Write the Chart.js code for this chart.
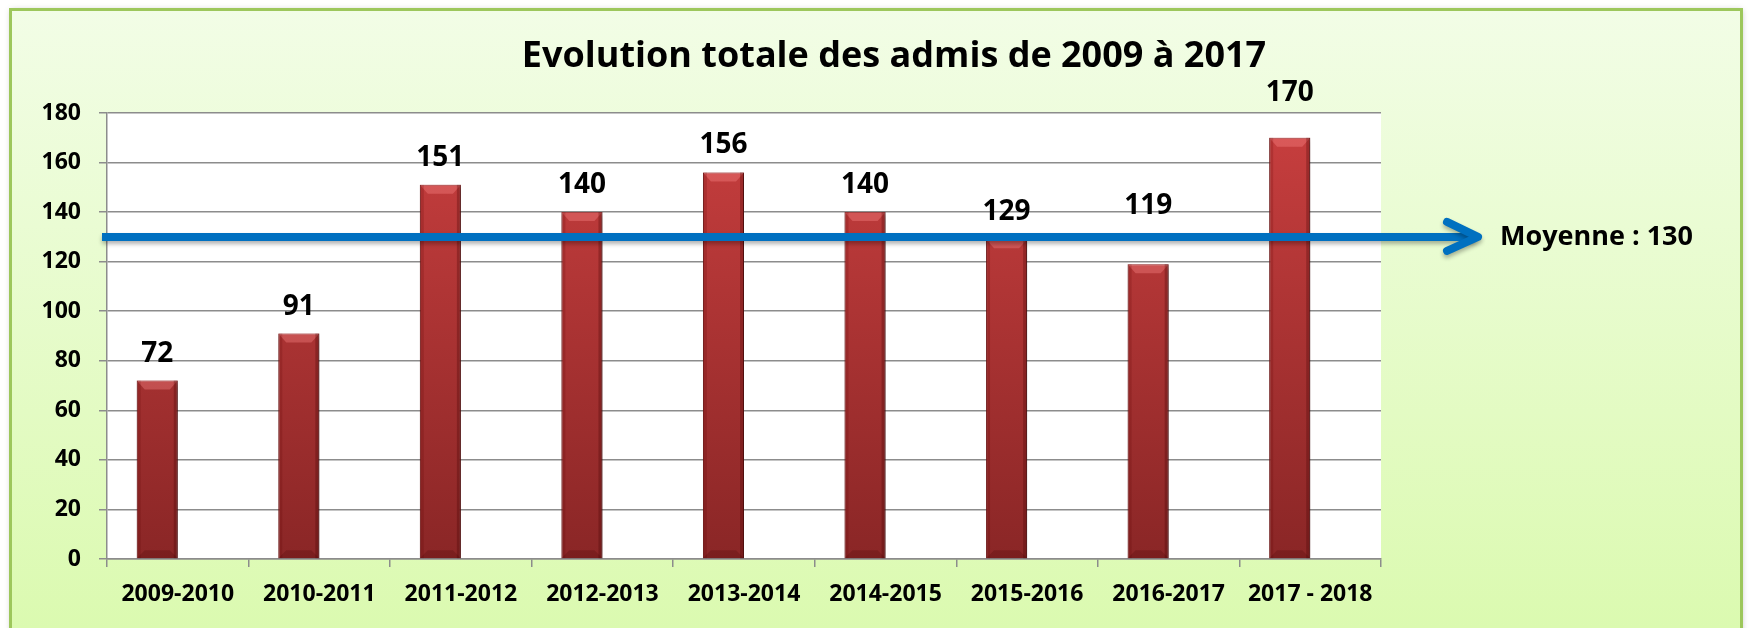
<!DOCTYPE html>
<html>
<head>
<meta charset="utf-8">
<script src="https://cdn.jsdelivr.net/npm/chart.js@4.4.0/dist/chart.umd.min.js"></script>
<style>
  html, body { margin: 0; padding: 0; background: #fff; }
  #cadre { width: 1749px; height: 628px; }
</style>
</head>
<body>
<div id="cadre"><canvas id="graphique"></canvas></div>
<script>
const annees = ['2009-2010', '2010-2011', '2011-2012', '2012-2013', '2013-2014', '2014-2015', '2015-2016', '2016-2017', '2017 - 2018'];
const admis = [72, 91, 151, 140, 156, 140, 129, 119, 170];
// deuxieme serie vide : elle decale les barres a gauche comme dans l'original
const vide = annees.map(() => null);
const ticksY = [0, 20, 40, 60, 80, 100, 120, 140, 160, 180];
const moyenne = 130;
const titre = 'Evolution totale des admis de 2009 à 2017';

const police = "'Open Sans', sans-serif";

const fond = {
    id: 'fond',
    beforeDraw(chart) {
        const ctx = chart.ctx;
        const a = chart.chartArea;
        ctx.save();
        ctx.fillStyle = '#fff';
        ctx.fillRect(0, 0, chart.width, chart.height);
        const g = ctx.createLinearGradient(0, 10, 0, chart.height);
        g.addColorStop(0, '#f2fde6');
        g.addColorStop(1, '#dbfab0');
        ctx.shadowColor = 'rgba(0,0,0,0.25)';
        ctx.shadowBlur = 6;
        ctx.fillStyle = g;
        ctx.fillRect(10.5, 9.5, 1731, 640);
        ctx.shadowColor = 'transparent';
        ctx.strokeStyle = '#9dc75c';
        ctx.lineWidth = 3;
        ctx.strokeRect(10.5, 9.5, 1731, 640);
        ctx.fillStyle = '#fff';
        ctx.fillRect(a.left, a.top, a.right - a.left, a.bottom - a.top);
        ctx.restore();
    }
};

const relief = {
    id: 'relief',
    beforeDatasetsDraw(chart) {
        const ctx = chart.ctx;
        ctx.save();
        ctx.shadowColor = 'rgba(0,0,0,0.35)';
        ctx.shadowBlur = 6;
        ctx.shadowOffsetX = 3;
        ctx.shadowOffsetY = 2;
    },
    afterDatasetsDraw(chart) {
        const ctx = chart.ctx;
        ctx.restore();
        const a = chart.chartArea;
        const yMoy = chart.scales.y.getPixelForValue(moyenne);

        ctx.save();
        chart.getDatasetMeta(0).data.forEach((barre, i) => {
            const p = barre.getProps(['x', 'y', 'base', 'width'], true);
            const g = p.x - p.width / 2, d = p.x + p.width / 2;
            // biseau du haut
            ctx.fillStyle = 'rgba(255,140,140,0.35)';
            ctx.beginPath();
            ctx.moveTo(g, p.y);
            ctx.lineTo(d, p.y);
            ctx.lineTo(d - 8, p.y + 9);
            ctx.lineTo(g + 8, p.y + 9);
            ctx.closePath();
            ctx.fill();
            // bords
            ctx.fillStyle = 'rgba(90,0,0,0.18)';
            ctx.fillRect(g, p.y, 4, p.base - p.y);
            ctx.fillStyle = 'rgba(60,0,0,0.28)';
            ctx.fillRect(d - 4, p.y, 4, p.base - p.y);
            // biseau du bas
            ctx.fillStyle = 'rgba(60,0,0,0.2)';
            ctx.beginPath();
            ctx.moveTo(g, p.base);
            ctx.lineTo(d, p.base);
            ctx.lineTo(d - 8, p.base - 8);
            ctx.lineTo(g + 8, p.base - 8);
            ctx.closePath();
            ctx.fill();
            // etiquette, ecartee du cadre et de la fleche
            let ligne = p.y - 19;
            if (ligne > a.top - 6 && ligne - 20 < a.top + 6) ligne = a.top - 12;
            if (ligne > yMoy - 6 && ligne - 20 < yMoy + 6) ligne = yMoy - 23;
            ctx.fillStyle = '#000';
            ctx.font = 'bold 28px ' + police;
            ctx.textAlign = 'center';
            ctx.textBaseline = 'alphabetic';
            ctx.fillText(admis[i], p.x, ligne);
        });
        ctx.restore();

        // fleche de la moyenne
        const pointe = a.right + 97;
        ctx.save();
        ctx.shadowColor = 'rgba(0,0,0,0.3)';
        ctx.shadowBlur = 4;
        ctx.shadowOffsetY = 3;
        ctx.strokeStyle = '#0070c0';
        ctx.lineWidth = 8;
        ctx.beginPath();
        ctx.moveTo(a.left - 5, yMoy);
        ctx.lineTo(pointe - 3, yMoy);
        ctx.stroke();
        ctx.lineCap = 'round';
        ctx.lineJoin = 'round';
        ctx.beginPath();
        ctx.moveTo(pointe - 31, yMoy - 15);
        ctx.lineTo(pointe, yMoy);
        ctx.lineTo(pointe - 31, yMoy + 14);
        ctx.stroke();
        ctx.restore();

        ctx.save();
        ctx.fillStyle = '#000';
        ctx.font = 'bold 27px ' + police;
        ctx.textBaseline = 'middle';
        ctx.fillText('Moyenne : ' + moyenne, pointe + 22, yMoy);
        // titre
        ctx.font = 'bold 36px ' + police;
        ctx.textAlign = 'center';
        ctx.fillText(titre, 894, 57);
        ctx.restore();
    }
};

new Chart(document.getElementById('graphique'), {
    type: 'bar',
    data: {
        labels: annees,
        datasets: [{
            label: 'Admis',
            data: admis,
            backgroundColor(c) {
                const a = c.chart.chartArea;
                if (!a) return '#b83434';
                const g = c.chart.ctx.createLinearGradient(0, a.top, 0, a.bottom);
                g.addColorStop(0, '#c93f3f');
                g.addColorStop(1, '#8a2626');
                return g;
            },
            borderColor: '#7a1e1e',
            borderWidth: 1,
            categoryPercentage: 0.58,
            barPercentage: 1
        }, {
            label: '',
            data: vide,
            categoryPercentage: 0.58,
            barPercentage: 1
        }]
    },
    options: {
        responsive: true,
        maintainAspectRatio: false,
        animation: false,
        layout: {
            padding: { top: 113, left: 37, right: 368, bottom: 19 }
        },
        plugins: {
            legend: { display: false },
            tooltip: { enabled: false },
            title: { display: false }
        },
        scales: {
            x: {
                afterFit(scale) { scale.height = 50; },
                grid: {
                    offset: true,
                    drawOnChartArea: false,
                    color: '#8c8c8c',
                    lineWidth: 1.5,
                    tickLength: 8
                },
                border: { color: '#8c8c8c', width: 1.5 },
                ticks: {
                    color: '#000',
                    padding: 14,
                    maxRotation: 0,
                    font: { family: police, size: 23, weight: 'bold' }
                }
            },
            y: {
                min: 0,
                max: 180,
                afterFit(scale) { scale.width = 70; },
                afterBuildTicks(scale) { scale.ticks = ticksY.map(v => ({ value: v })); },
                grid: {
                    color: '#8c8c8c',
                    lineWidth: 1.5,
                    tickLength: 8
                },
                border: { color: '#8c8c8c', width: 1.5 },
                ticks: {
                    color: '#000',
                    padding: 18,
                    font: { family: police, size: 23, weight: 'bold' }
                }
            }
        }
    },
    plugins: [fond, relief]
});
</script>
</body>
</html>
